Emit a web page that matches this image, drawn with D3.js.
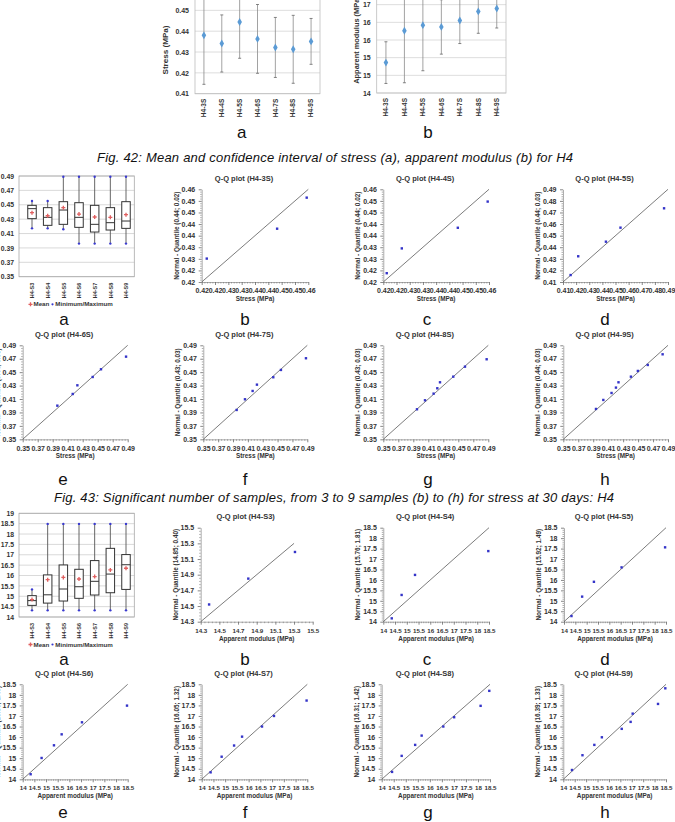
<!DOCTYPE html>
<html>
<head>
<meta charset="utf-8">
<script src="https://cdn.jsdelivr.net/npm/d3@7"></script>
<style>
  body { margin: 0; background: #fff; }
  svg { display: block; }
</style>
</head>
<body>
<svg id="page" width="675" height="822"></svg>
<script>
// ---------- Fig. 42 : mean and confidence interval ----------
const ciCategories = ["H4-3S", "H4-4S", "H4-5S", "H4-6S", "H4-7S", "H4-8S", "H4-9S"];
const stressMean = [0.4380, 0.4341, 0.4444, 0.4363, 0.4322, 0.4313, 0.4351];
const stressLow  = [0.4145, 0.4204, 0.4270, 0.4198, 0.4178, 0.4150, 0.4241];
const stressHigh = [0.4615, 0.4478, 0.4618, 0.4528, 0.4466, 0.4476, 0.4461];
const stressTicks = [0.41, 0.42, 0.43, 0.44, 0.45, 0.46];
const stressTickLabels = ["0.41", "0.42", "0.43", "0.44", "0.45", "0.46"];

const modulusMean = [14.86, 15.76, 15.92, 15.87, 16.05, 16.31, 16.39];
const modulusLow  = [14.27, 14.29, 14.63, 15.10, 15.40, 15.69, 15.84];
const modulusHigh = [15.45, 17.23, 17.21, 16.64, 16.70, 16.93, 16.94];
const modulusTicks = [14, 14.5, 15, 15.5, 16, 16.5, 17];
const modulusTickLabels = ["14", "15", "15", "16", "16", "17", "17"];

// ---------- box plots ----------
const boxCategories = ["H4-S3", "H4-S4", "H4-S5", "H4-S6", "H4-S7", "H4-S8", "H4-S9"];
const stressBoxMin    = [0.4172, 0.4172, 0.4160, 0.3960, 0.3960, 0.3960, 0.3960];
const stressBoxQ1     = [0.4307, 0.4214, 0.4228, 0.4186, 0.4121, 0.4149, 0.4172];
const stressBoxMedian = [0.4446, 0.4325, 0.4427, 0.4325, 0.4228, 0.4251, 0.4274];
const stressBoxQ3     = [0.4492, 0.4460, 0.4543, 0.4529, 0.4492, 0.4460, 0.4543];
const stressBoxMax    = [0.4552, 0.4552, 0.4890, 0.4890, 0.4890, 0.4890, 0.4890];
const stressBoxMean   = [0.4390, 0.4348, 0.4460, 0.4371, 0.4330, 0.4325, 0.4362];
const stressBoxTicks = [0.35, 0.37, 0.39, 0.41, 0.43, 0.45, 0.47, 0.49];
const stressBoxLabels = ["0.35", "0.37", "0.39", "0.41", "0.43", "0.45", "0.47", "0.49"];

const modulusBoxMin    = [14.32, 14.32, 14.32, 14.32, 14.32, 14.32, 14.32];
const modulusBoxQ1     = [14.56, 14.67, 14.77, 14.90, 15.06, 15.17, 15.33];
const modulusBoxMedian = [14.79, 15.07, 15.35, 15.46, 15.72, 16.07, 16.52];
const modulusBoxQ3     = [15.03, 16.03, 16.51, 16.30, 16.72, 17.31, 17.01];
const modulusBoxMax    = [15.33, 18.49, 18.49, 18.49, 18.49, 18.49, 18.49];
const modulusBoxMean   = [14.84, 15.80, 15.91, 15.83, 15.95, 16.27, 16.35];
const modulusBoxTicks = [14, 14.5, 15, 15.5, 16, 16.5, 17, 17.5, 18, 18.5, 19];
const modulusBoxLabels = ["14", "14.5", "15", "15.5", "16", "16.5", "17", "17.5", "18", "18.5", "19"];

// ---------- Q-Q plots : [observed, normal quantile] ----------
const qqStress3 = [[0.4219, 0.4301], [0.4483, 0.4430], [0.4594, 0.4564]];
const qqStress4 = [[0.4213, 0.4238], [0.4270, 0.4345], [0.4482, 0.4434], [0.4595, 0.4547]];
const qqStress5 = [[0.4158, 0.4160], [0.4216, 0.4322], [0.4427, 0.4448], [0.4538, 0.4569], [0.4870, 0.4736]];
const qqStress6 = [[0.3962, 0.4001], [0.4167, 0.4175], [0.4229, 0.4304], [0.4433, 0.4428], [0.4544, 0.4543], [0.4878, 0.4731]];
const qqStress7 = [[0.3949, 0.3937], [0.4061, 0.4096], [0.4164, 0.4220], [0.4222, 0.4314], [0.4442, 0.4424], [0.4545, 0.4533], [0.4882, 0.4707]];
const qqStress8 = [[0.3949, 0.3947], [0.4056, 0.4081], [0.4171, 0.4180], [0.4220, 0.4260], [0.4256, 0.4349], [0.4433, 0.4433], [0.4589, 0.4582], [0.4878, 0.4692]];
const qqStress9 = [[0.3937, 0.3952], [0.4035, 0.4086], [0.4145, 0.4190], [0.4204, 0.4270], [0.4238, 0.4349], [0.4404, 0.4433], [0.4497, 0.4518], [0.4629, 0.4607], [0.4828, 0.4766]];

const qqModulus3 = [[14.39, 14.52], [14.81, 14.85], [15.31, 15.19]];
const qqModulus4 = [[14.36, 14.16], [14.78, 15.28], [15.35, 16.24], [18.47, 17.38]];
const qqModulus5 = [[14.33, 14.27], [14.80, 15.20], [15.32, 15.91], [16.54, 16.60], [18.46, 17.56]];
const qqModulus6 = [[14.34, 14.24], [14.81, 15.01], [15.34, 15.61], [15.67, 16.13], [16.54, 16.70], [18.47, 17.49]];
const qqModulus7 = [[14.38, 14.33], [14.85, 15.07], [15.38, 15.60], [15.72, 16.02], [16.57, 16.50], [17.08, 17.00], [18.47, 17.73]];
const qqModulus8 = [[14.43, 14.35], [14.83, 15.11], [15.39, 15.63], [15.66, 16.07], [16.56, 16.50], [17.01, 16.94], [18.11, 17.48], [18.47, 18.19]];
const qqModulus9 = [[14.38, 14.44], [14.84, 15.14], [15.36, 15.63], [15.69, 15.99], [16.56, 16.39], [16.95, 16.72], [17.04, 17.11], [18.15, 17.57], [18.47, 18.31]];

const qqTicksA = [0.42, 0.425, 0.43, 0.435, 0.44, 0.445, 0.45, 0.455, 0.46];
const qqLabelsA = ["0.42", "0.42", "0.43", "0.43", "0.44", "0.44", "0.45", "0.45", "0.46"];
const qqTicksB = [0.41, 0.42, 0.43, 0.44, 0.45, 0.46, 0.47, 0.48, 0.49];
const qqLabelsB = ["0.41", "0.42", "0.43", "0.44", "0.45", "0.46", "0.47", "0.48", "0.49"];
const qqTicksC = [0.35, 0.37, 0.39, 0.41, 0.43, 0.45, 0.47, 0.49];
const qqLabelsC = ["0.35", "0.37", "0.39", "0.41", "0.43", "0.45", "0.47", "0.49"];
const qqTicksD = [14.3, 14.5, 14.7, 14.9, 15.1, 15.3, 15.5];
const qqLabelsD = ["14.3", "14.5", "14.7", "14.9", "15.1", "15.3", "15.5"];
const qqTicksE = [14, 14.5, 15, 15.5, 16, 16.5, 17, 17.5, 18, 18.5];
const qqLabelsE = ["14", "14.5", "15", "15.5", "16", "16.5", "17", "17.5", "18", "18.5"];

// ---------- drawing ----------
const FONT = '"Liberation Sans", Arial, Helvetica, sans-serif';
const svg = d3.select("#page").attr("font-family", FONT);

function styleText(sel, size, weight) {
  sel.attr("font-family", FONT).attr("font-size", size)
    .attr("font-weight", weight || "bold").attr("fill", "#333");
}

function ciChart(o) {
  const g = svg.append("g");
  const x = d3.scaleBand().domain(ciCategories).range([o.left, o.right]);
  const y = d3.scaleLinear().domain(o.domain).range([o.bottom, o.top]);

  g.selectAll("line.grid").data(o.ticks).join("line")
    .attr("x1", o.left).attr("x2", o.right)
    .attr("y1", d => y(d)).attr("y2", d => y(d))
    .attr("stroke", "#d4d4d4").attr("stroke-width", 0.8);
  g.append("rect")
    .attr("x", o.left).attr("y", o.top)
    .attr("width", o.right - o.left).attr("height", o.bottom - o.top)
    .attr("fill", "none").attr("stroke", "#bdbdbd").attr("stroke-width", 0.8);

  // only the labels that fall inside the visible page
  const shown = o.ticks.map((d, i) => i).filter(i => y(o.ticks[i]) > 2);
  const ya = g.append("g").attr("transform", `translate(${o.left},0)`)
    .call(d3.axisLeft(y).tickValues(shown.map(i => o.ticks[i]))
      .tickFormat((d, k) => o.labels[shown[k]]).tickSize(0).tickPadding(6));
  ya.select(".domain").remove();
  styleText(ya.selectAll("text"), 7);

  const xa = g.append("g").attr("transform", `translate(0,${o.bottom})`)
    .call(d3.axisBottom(x).tickSize(0));
  xa.select(".domain").remove();
  styleText(xa.selectAll("text"), 6.5);
  xa.selectAll("text").attr("transform", "rotate(-90)")
    .attr("x", -5).attr("y", 0).attr("dy", "0.35em").style("text-anchor", "end");

  const cx = (d, i) => x(ciCategories[i]) + x.bandwidth() / 2;
  g.selectAll("line.err").data(o.mean).join("line")
    .attr("x1", cx).attr("x2", cx)
    .attr("y1", (d, i) => y(o.low[i])).attr("y2", (d, i) => y(o.high[i]))
    .attr("stroke", "#8a8a8a").attr("stroke-width", 0.8);
  ["low", "high"].forEach(k => {
    g.selectAll("line.cap-" + k).data(o[k]).join("line")
      .attr("x1", (d, i) => cx(d, i) - 1.5).attr("x2", (d, i) => cx(d, i) + 1.5)
      .attr("y1", d => y(d)).attr("y2", d => y(d))
      .attr("stroke", "#666").attr("stroke-width", 0.8);
  });
  g.selectAll("path.pt").data(o.mean).join("path")
    .attr("d", d3.symbol(d3.symbolDiamond, 18))
    .attr("transform", (d, i) => `translate(${cx(d, i)},${y(d)})`)
    .attr("fill", "#5b9bd5");

  const t = g.append("text")
    .attr("transform", `translate(${o.titleX},${o.titleY}) rotate(-90)`)
    .attr("text-anchor", "middle").text(o.title);
  styleText(t, o.titleSize || 8.1);
}

function boxChart(o) {
  const g = svg.append("g");
  const x = d3.scalePoint().domain(boxCategories).range([o.catLeft, o.catRight]);
  const y = d3.scaleLinear().domain([o.ticks[0], o.ticks[o.ticks.length - 1]]).range([o.bottom, o.top]);

  g.selectAll("line.grid").data(o.ticks).join("line")
    .attr("x1", o.left).attr("x2", o.right)
    .attr("y1", d => y(d)).attr("y2", d => y(d))
    .attr("stroke", "#cfcfcf").attr("stroke-width", 0.8);
  g.append("rect")
    .attr("x", o.left).attr("y", o.top)
    .attr("width", o.right - o.left).attr("height", o.bottom - o.top)
    .attr("fill", "none").attr("stroke", "#a8a8a8").attr("stroke-width", 0.8);

  const ya = g.append("g").attr("transform", `translate(${o.left},0)`)
    .call(d3.axisLeft(y).tickValues(o.ticks).tickFormat((d, i) => o.labels[i]).tickSize(0).tickPadding(5));
  ya.select(".domain").remove();
  styleText(ya.selectAll("text"), 6.8);

  const xa = g.append("g").attr("transform", `translate(0,${o.bottom})`)
    .call(d3.axisBottom(x).tickSize(0));
  xa.select(".domain").remove();
  styleText(xa.selectAll("text"), 5.5);
  xa.selectAll("text").attr("transform", "rotate(-90)")
    .attr("x", -6).attr("y", 0).attr("dy", "0.35em").style("text-anchor", "end");

  const w = 8.5;
  const cx = (d, i) => x(boxCategories[i]);
  g.selectAll("line.whisk").data(o.min).join("line")
    .attr("x1", cx).attr("x2", cx)
    .attr("y1", d => y(d)).attr("y2", (d, i) => y(o.max[i]))
    .attr("stroke", "#555").attr("stroke-width", 0.9);
  g.selectAll("rect.box").data(o.q1).join("rect")
    .attr("x", (d, i) => cx(d, i) - w / 2).attr("width", w)
    .attr("y", (d, i) => y(o.q3[i])).attr("height", (d, i) => y(d) - y(o.q3[i]))
    .attr("fill", "#fff").attr("stroke", "#333").attr("stroke-width", 1);
  g.selectAll("line.med").data(o.median).join("line")
    .attr("x1", (d, i) => cx(d, i) - w / 2).attr("x2", (d, i) => cx(d, i) + w / 2)
    .attr("y1", d => y(d)).attr("y2", d => y(d))
    .attr("stroke", "#333").attr("stroke-width", 1);
  ["min", "max"].forEach(k => {
    g.selectAll("circle.ext-" + k).data(o[k]).join("circle")
      .attr("cx", cx).attr("cy", d => y(d)).attr("r", 1.2).attr("fill", "#3a3ad0");
  });
  g.selectAll("path.mean").data(o.mean).join("path")
    .attr("d", d3.symbol(d3.symbolCross, 9))
    .attr("transform", (d, i) => `translate(${cx(d, i)},${y(d)})`)
    .attr("fill", "#e06060");

  // legend
  const lg = g.append("g").attr("transform", `translate(0,${o.legendY})`);
  lg.append("path").attr("d", d3.symbol(d3.symbolCross, 9)).attr("transform", "translate(30.5,0)").attr("fill", "#e06060");
  styleText(lg.append("text").attr("x", 33.5).attr("dy", "0.35em").text("Mean"), 6.2);
  lg.append("circle").attr("cx", 52.5).attr("r", 1.1).attr("fill", "#3a3ad0");
  styleText(lg.append("text").attr("x", 55.3).attr("dy", "0.35em").text("Minimum/Maximum"), 6.2);
}

function qqChart(p) {
  const [left, right, top, bottom] = p.box;
  const dom = [p.ticks[0], p.ticks[p.ticks.length - 1]];
  const x = d3.scaleLinear().domain(dom).range([left, right]);
  const y = d3.scaleLinear().domain(dom).range([bottom, top]);
  const g = svg.append("g");

  const minor = [];
  for (let i = 0; i < p.ticks.length - 1; i++)
    for (let k = 1; k < 5; k++) minor.push(p.ticks[i] + (p.ticks[i + 1] - p.ticks[i]) * k / 5);

  const axes = [
    [d3.axisBottom(x), `translate(0,${bottom})`, p.xTickSize || 7],
    [d3.axisLeft(y), `translate(${left},0)`, 7]
  ];
  axes.forEach(([ax, tr, fs]) => {
    const m = g.append("g").attr("transform", tr)
      .call(ax.tickValues(minor).tickFormat("").tickSize(1.5).tickSizeOuter(0));
    m.select(".domain").attr("stroke", "#777").attr("stroke-width", 0.6);
    m.selectAll(".tick line").attr("stroke", "#777").attr("stroke-width", 0.6);
    const M = g.append("g").attr("transform", tr)
      .call(ax.tickValues(p.ticks).tickFormat((d, i) => p.labels[i]).tickSize(3).tickPadding(3.5).tickSizeOuter(0));
    M.select(".domain").remove();
    M.selectAll(".tick line").attr("stroke", "#555").attr("stroke-width", 0.7);
    styleText(M.selectAll("text"), fs);
  });

  const lineEnd = p.lineEnd || dom[1];
  g.append("line")
    .attr("x1", x(dom[0])).attr("y1", y(dom[0]))
    .attr("x2", x(lineEnd)).attr("y2", y(lineEnd))
    .attr("stroke", "#444").attr("stroke-width", 0.7);

  g.selectAll("rect.pt").data(p.data).join("rect")
    .attr("x", d => x(d[0]) - 1.2).attr("y", d => y(d[1]) - 1.2)
    .attr("width", 2.4).attr("height", 2.4).attr("fill", "#3434c8");

  styleText(g.append("text").attr("x", (left + right) / 2 - 11).attr("y", top - 8.3)
    .attr("text-anchor", "middle").text(p.title), 7.5);
  styleText(g.append("text").attr("x", (left + right) / 2).attr("y", bottom + 19)
    .attr("text-anchor", "middle").text(p.xtitle), 6.4);
  styleText(g.append("text")
    .attr("transform", `translate(${left - 23},${(top + bottom) / 2}) rotate(-90)`)
    .attr("text-anchor", "middle").text(p.ytitle), 6.4);
}

function label(txt, x, y) {
  svg.append("text").attr("x", x).attr("y", y).attr("text-anchor", "middle")
    .attr("font-family", FONT).attr("font-size", 17).attr("fill", "#111").text(txt);
}
function caption(txt, x, y, len) {
  svg.append("text").attr("x", x).attr("y", y)
    .attr("font-family", FONT).attr("font-size", 13).attr("font-style", "italic")
    .attr("textLength", len).attr("lengthAdjust", "spacing")
    .attr("fill", "#111").text(txt);
}

// Fig. 42 panels
ciChart({
  left: 195, right: 320, top: -10.5, bottom: 93.7, domain: [0.41, 0.46],
  ticks: stressTicks, labels: stressTickLabels,
  mean: stressMean, low: stressLow, high: stressHigh,
  title: "Stress (MPa)", titleX: 168, titleY: 50
});
ciChart({
  left: 376.7, right: 506, top: -13, bottom: 93, domain: [14, 17],
  ticks: modulusTicks, labels: modulusTickLabels,
  mean: modulusMean, low: modulusLow, high: modulusHigh,
  title: "Apparent modulus (MPa)", titleX: 358.5, titleY: 40, titleSize: 7.4
});
label("a", 241.7, 138);
label("b", 428, 138);
caption("Fig. 42: Mean and confidence interval of stress (a), apparent modulus (b) for H4", 97, 162, 476);

// Fig. 43 : stress
boxChart({
  left: 19, right: 134.3, top: 176, bottom: 276.7, catLeft: 32, catRight: 126,
  ticks: stressBoxTicks, labels: stressBoxLabels,
  min: stressBoxMin, q1: stressBoxQ1, median: stressBoxMedian, q3: stressBoxQ3,
  max: stressBoxMax, mean: stressBoxMean, legendY: 304.3
});

const stressRow1 = [189.3, 282];
const stressRow2 = [345.3, 439.3];
[
  { data: qqStress3, ticks: qqTicksA, labels: qqLabelsA, title: "Q-Q plot (H4-3S)", ytitle: "Normal - Quantile (0.44; 0.02)", box: [201.7, 308.3, ...stressRow1] },
  { data: qqStress4, ticks: qqTicksA, labels: qqLabelsA, title: "Q-Q plot (H4-4S)", ytitle: "Normal - Quantile (0.44; 0.02)", box: [383.3, 489, ...stressRow1] },
  { data: qqStress5, ticks: qqTicksB, labels: qqLabelsB, title: "Q-Q plot (H4-5S)", ytitle: "Normal - Quantile (0.44; 0.03)", box: [563, 668, ...stressRow1] },
  { data: qqStress6, ticks: qqTicksC, labels: qqLabelsC, title: "Q-Q plot (H4-6S)", ytitle: "Normal - Quantile (0.44; 0.03)", box: [22.7, 127.7, ...stressRow2] },
  { data: qqStress7, ticks: qqTicksC, labels: qqLabelsC, title: "Q-Q plot (H4-7S)", ytitle: "Normal - Quantile (0.43; 0.03)", box: [203.3, 307.3, ...stressRow2] },
  { data: qqStress8, ticks: qqTicksC, labels: qqLabelsC, title: "Q-Q plot (H4-8S)", ytitle: "Normal - Quantile (0.43; 0.03)", box: [383.3, 488.3, ...stressRow2] },
  { data: qqStress9, ticks: qqTicksC, labels: qqLabelsC, title: "Q-Q plot (H4-9S)", ytitle: "Normal - Quantile (0.44; 0.03)", box: [563.3, 668, ...stressRow2] }
].forEach(p => qqChart({ ...p, xtitle: "Stress (MPa)" }));

["a", "b", "c", "d"].forEach((t, i) => label(t, [64, 245, 427, 605][i], 325));
["e", "f", "g", "h"].forEach((t, i) => label(t, [63, 245, 428, 605][i], 485));
caption("Fig. 43: Significant number of samples, from 3 to 9 samples (b) to (h) for stress at 30 days: H4", 54, 502, 560);

// Fig. 44 (upper part) : apparent modulus
boxChart({
  left: 19, right: 134.3, top: 513.3, bottom: 617, catLeft: 32, catRight: 126,
  ticks: modulusBoxTicks, labels: modulusBoxLabels,
  min: modulusBoxMin, q1: modulusBoxQ1, median: modulusBoxMedian, q3: modulusBoxQ3,
  max: modulusBoxMax, mean: modulusBoxMean, legendY: 644.5
});

const modRow1 = [527.7, 621.7];
const modRow2 = [684.3, 779.3];
[
  { data: qqModulus3, ticks: qqTicksD, labels: qqLabelsD, title: "Q-Q plot (H4-S3)", ytitle: "Normal - Quantile (14.85; 0.40)", box: [200.7, 312.7, ...modRow1], lineEnd: 15.3 },
  { data: qqModulus4, ticks: qqTicksE, labels: qqLabelsE, title: "Q-Q plot (H4-S4)", ytitle: "Normal - Quantile (15.76; 1.81)", box: [383.3, 489, ...modRow1] },
  { data: qqModulus5, ticks: qqTicksE, labels: qqLabelsE, title: "Q-Q plot (H4-S5)", ytitle: "Normal - Quantile (15.92; 1.49)", box: [564, 666, ...modRow1] },
  { data: qqModulus6, ticks: qqTicksE, labels: qqLabelsE, title: "Q-Q plot (H4-S6)", ytitle: "Normal - Quantile (15.86; 1.45)", box: [22.7, 127.7, ...modRow2] },
  { data: qqModulus7, ticks: qqTicksE, labels: qqLabelsE, title: "Q-Q plot (H4-S7)", ytitle: "Normal - Quantile (16.05; 1.32)", box: [201.7, 307.3, ...modRow2] },
  { data: qqModulus8, ticks: qqTicksE, labels: qqLabelsE, title: "Q-Q plot (H4-S8)", ytitle: "Normal - Quantile (16.31; 1.42)", box: [381.7, 490, ...modRow2] },
  { data: qqModulus9, ticks: qqTicksE, labels: qqLabelsE, title: "Q-Q plot (H4-S9)", ytitle: "Normal - Quantile (16.39; 1.33)", box: [563.3, 666, ...modRow2] }
].forEach(p => qqChart({ ...p, xtitle: "Apparent modulus (MPa)", xTickSize: 6.2 }));

["a", "b", "c", "d"].forEach((t, i) => label(t, [64, 245, 427, 605][i], 665));
["e", "f", "g", "h"].forEach((t, i) => label(t, [63, 245, 428, 605][i], 818));
</script>
</body>
</html>
